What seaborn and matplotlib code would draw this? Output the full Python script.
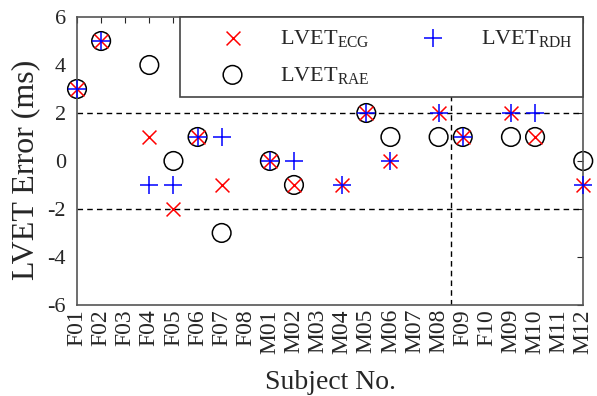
import numpy as np
import pandas as pd
import matplotlib
matplotlib.use("Agg")
import matplotlib.pyplot as plt
import seaborn as sns

subjects = ["F01", "F02", "F03", "F04", "F05", "F06", "F07", "F08",
            "M01", "M02", "M03", "M04", "M05", "M06", "M07", "M08",
            "F09", "F10", "M09", "M10", "M11", "M12"]
nan = np.nan
ecg = [3, 5, nan, 1, -2, 1, -1, nan, 0, -1, nan, -1, 2, 0, nan, 2, 1, nan, 2, 1, nan, -1]
rae = [3, 5, nan, 4, 0, 1, -3, nan, 0, -1, nan, nan, 2, 1, nan, 1, 1, nan, 1, 1, nan, 0]
rdh = [3, 5, nan, -1, -1, 1, 1, nan, 0, 0, nan, -1, 2, 0, nan, 2, 1, nan, 2, 2, nan, -1]
yticks = [-6, -4, -2, 0, 2, 4, 6]

SERIF = "Liberation Serif"
sns.set_style("white")
plt.rcParams["font.family"] = [SERIF, "DejaVu Serif"]
plt.rcParams["mathtext.fontset"] = "custom"
plt.rcParams["mathtext.rm"] = SERIF
plt.rcParams["mathtext.it"] = SERIF + ":italic"

pos = np.arange(1, len(subjects) + 1)
df = pd.DataFrame({"pos": pos, "ECG": ecg, "RAE": rae, "RDH": rdh})

fig = plt.figure(figsize=(5.97, 3.96), dpi=100)
ax = fig.add_axes([0.129, 0.230, 0.848, 0.727])

dash = (0, (4, 3))
ax.axhline(2, color="black", ls=dash, lw=1, zorder=1)
ax.axhline(-2, color="black", ls=dash, lw=1, zorder=1)
ax.axvline(16.5, color="black", ls=dash, lw=1, zorder=1)

sns.scatterplot(data=df, x="pos", y="ECG", marker="x", color="red", s=100,
                linewidth=1.1, ax=ax, zorder=3, clip_on=False,
                label=r"$\mathregular{LVET_{ECG}}$")
sns.scatterplot(data=df, x="pos", y="RAE", marker="o", facecolor="none",
                edgecolor="black", s=180, linewidth=1.1, ax=ax, zorder=2,
                clip_on=False, label=r"$\mathregular{LVET_{RAE}}$")
sns.scatterplot(data=df, x="pos", y="RDH", marker="+", color="blue", s=150,
                linewidth=1.1, ax=ax, zorder=4, clip_on=False,
                label=r"$\mathregular{LVET_{RDH}}$")

ax.set_xlim(1, len(subjects))
ax.set_ylim(-6, 6)
ax.set_xticks(pos)
ax.set_xticklabels(subjects, rotation=90, fontfamily=SERIF, fontsize=17)
ax.set_yticks(yticks)
ax.set_yticklabels([str(v) for v in yticks], fontfamily=SERIF, fontsize=16)
ax.tick_params(direction="in", top=True, right=True, length=4, width=0.8)
ax.tick_params(axis="x", pad=3)
ax.tick_params(axis="y", pad=8)
ax.set_xlabel("Subject No.", fontsize=20, labelpad=12, fontfamily=SERIF)
ax.set_ylabel("LVET Error (ms)", fontsize=23, fontfamily=SERIF)
ax.yaxis.set_label_coords(-0.072, 0.47)
for s in ax.spines.values():
    s.set_color("#555555")
    s.set_linewidth(1.2)

leg = ax.legend(loc="upper left", bbox_to_anchor=(0.204, 0.7, 0.796, 0.3),
                mode="expand", ncol=2, prop={"family": SERIF, "size": 16},
                frameon=True, fancybox=False, framealpha=1,
                edgecolor="#444444", borderaxespad=0,
                handletextpad=0.3, borderpad=0.5, labelspacing=0.7,
                handlelength=3.7)
leg.get_frame().set_linewidth(1.2)
leg.set_zorder(10)

fig.savefig("out.png", dpi=100)
